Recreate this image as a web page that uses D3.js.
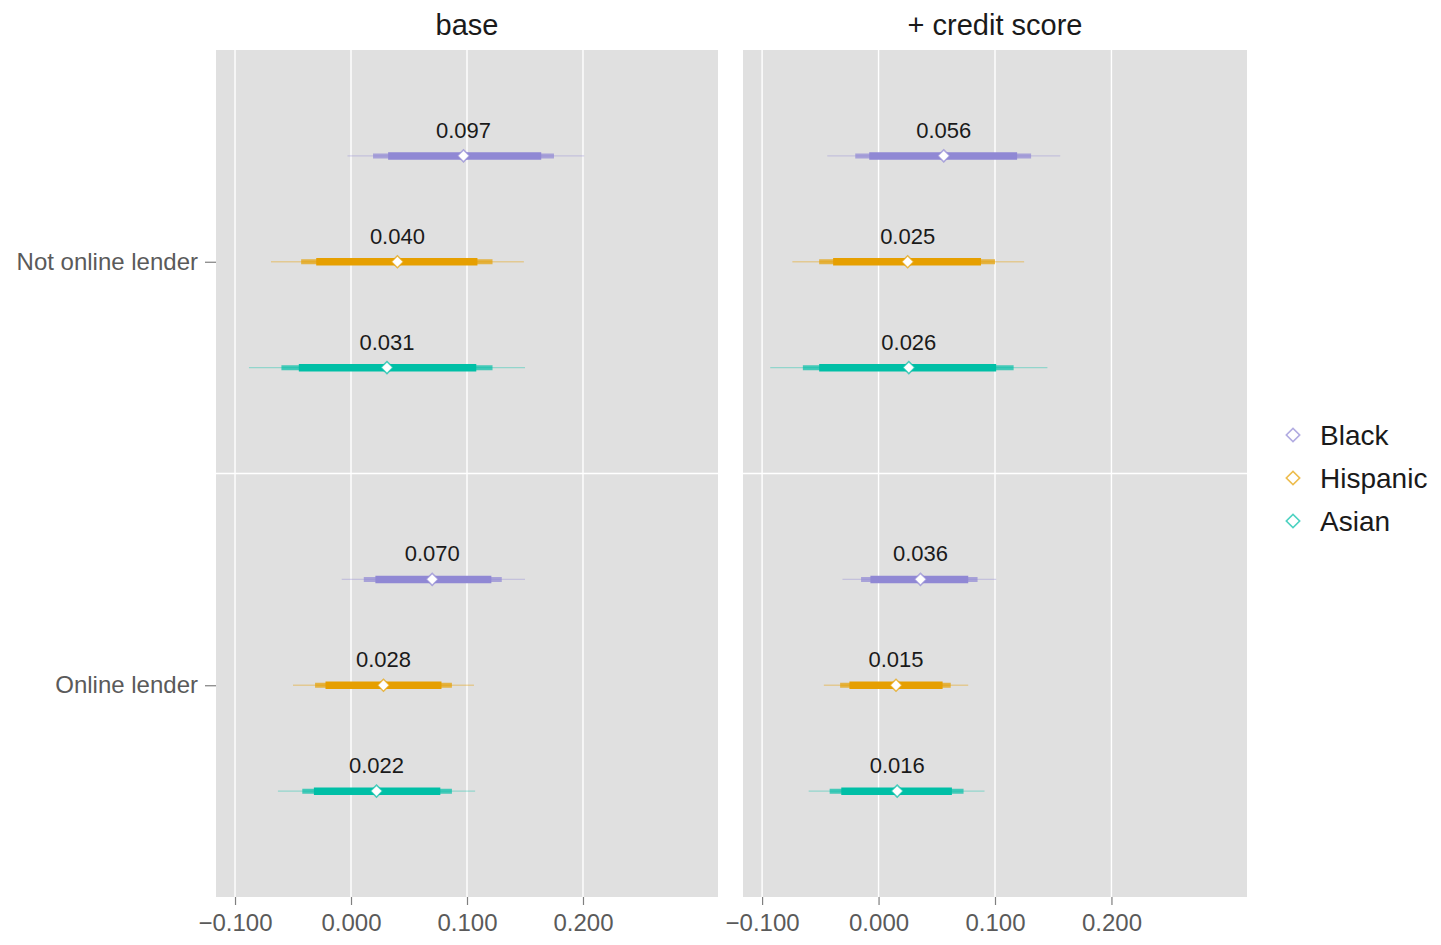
<!DOCTYPE html>
<html>
<head>
<meta charset="utf-8">
<script src="https://cdn.jsdelivr.net/npm/d3@7"></script>
<style>
  body { margin: 0; background: #fff; }
  svg { font-family: "Liberation Sans", Arial, sans-serif; }
</style>
</head>
<body>
<div id="chart"></div>
<script>
// ---- data ----
var panels = ["base", "+ credit score"];
var lenders = ["Not online lender", "Online lender"];
var races = ["Black", "Hispanic", "Asian"];
var xTicks = [-0.1, 0, 0.1, 0.2];

// order: panel -> lender -> race
var est  = [0.097, 0.040, 0.031, 0.070, 0.028, 0.022, 0.056, 0.025, 0.026, 0.036, 0.015, 0.016];
var lo99 = [-0.003, -0.069, -0.088, -0.008, -0.050, -0.063, -0.044, -0.074, -0.093, -0.031, -0.047, -0.060];
var hi99 = [0.201, 0.149, 0.150, 0.150, 0.106, 0.107, 0.156, 0.125, 0.145, 0.101, 0.077, 0.091];
var lo95 = [0.019, -0.043, -0.060, 0.011, -0.031, -0.042, -0.020, -0.051, -0.065, -0.015, -0.033, -0.042];
var hi95 = [0.175, 0.122, 0.122, 0.130, 0.087, 0.087, 0.131, 0.100, 0.116, 0.085, 0.062, 0.073];
var lo90 = [0.032, -0.030, -0.045, 0.021, -0.022, -0.032, -0.008, -0.039, -0.051, -0.007, -0.025, -0.032];
var hi90 = [0.164, 0.109, 0.108, 0.121, 0.078, 0.077, 0.119, 0.088, 0.101, 0.077, 0.055, 0.063];

var colors = ["#9088d4", "#e69f00", "#00bfa6"];

// ---- layout ----
var width = 1441, height = 945;
var panelX = [[216, 718], [743, 1247]];
var plotTop = 50, plotBottom = 897;
var xDomain = [-0.1164, 0.3164];

var rows = [];
est.forEach(function(v, i) {
    rows.push({
        panel: panels[Math.floor(i / 6)],
        lender: lenders[Math.floor(i / 3) % 2],
        race: races[i % 3],
        est: v,
        lo99: lo99[i], hi99: hi99[i],
        lo95: lo95[i], hi95: hi95[i],
        lo90: lo90[i], hi90: hi90[i]
    });
});

var svg = d3.select("#chart").append("svg")
    .attr("width", width)
    .attr("height", height);

var y = d3.scalePoint().domain(lenders).range([plotTop, plotBottom]).padding(0.5);
var dodge = d3.scalePoint().domain(races).range([-y.step() / 4, y.step() / 4]);
var color = d3.scaleOrdinal().domain(races).range(colors);

panels.forEach(function(p, pi) {
    var x = d3.scaleLinear().domain(xDomain).range(panelX[pi]);
    var g = svg.append("g").attr("class", "panel");

    g.append("rect")
        .attr("x", panelX[pi][0])
        .attr("y", plotTop)
        .attr("width", panelX[pi][1] - panelX[pi][0])
        .attr("height", plotBottom - plotTop)
        .attr("fill", "#e0e0e0");

    // vertical grid
    g.selectAll(".vgrid")
        .data(xTicks).enter()
        .append("line")
        .attr("x1", d => x(d)).attr("x2", d => x(d))
        .attr("y1", plotTop).attr("y2", plotBottom)
        .attr("stroke", "#fff")
        .attr("stroke-width", 1.4);

    // horizontal divider between lender groups
    g.append("line")
        .attr("x1", panelX[pi][0]).attr("x2", panelX[pi][1])
        .attr("y1", (plotTop + plotBottom) / 2).attr("y2", (plotTop + plotBottom) / 2)
        .attr("stroke", "#fff")
        .attr("stroke-width", 1.4);

    // strip title
    g.append("text")
        .attr("x", (panelX[pi][0] + panelX[pi][1]) / 2)
        .attr("y", 25)
        .attr("text-anchor", "middle")
        .attr("dominant-baseline", "central")
        .attr("font-size", "29px")
        .attr("fill", "#1a1a1a")
        .text(p);

    // x axis
    var xAxis = d3.axisBottom(x).tickValues(xTicks).tickSize(8).tickPadding(9)
        .tickFormat(d3.format(".3f"));
    var ax = g.append("g")
        .attr("transform", "translate(0," + plotBottom + ")")
        .call(xAxis);
    ax.select(".domain").remove();
    ax.selectAll(".tick line").attr("stroke", "#7f7f7f").attr("stroke-width", 1.2);
    ax.selectAll(".tick text")
        .attr("font-size", "24px")
        .attr("font-family", "Liberation Sans, Arial, sans-serif")
        .attr("fill", "#5a5a5a");

    var data = rows.filter(d => d.panel === p);
    var rg = g.selectAll(".row")
        .data(data).enter()
        .append("g")
        .attr("transform", d => "translate(0," + (y(d.lender) + dodge(d.race)) + ")");

    rg.append("line")
        .attr("x1", d => x(d.lo99)).attr("x2", d => x(d.hi99))
        .attr("stroke", d => color(d.race))
        .attr("stroke-opacity", 0.35)
        .attr("stroke-width", 1.3);
    rg.append("line")
        .attr("x1", d => x(d.lo95)).attr("x2", d => x(d.hi95))
        .attr("stroke", d => color(d.race))
        .attr("stroke-opacity", 0.7)
        .attr("stroke-width", 5);
    rg.append("line")
        .attr("x1", d => x(d.lo90)).attr("x2", d => x(d.hi90))
        .attr("stroke", d => color(d.race))
        .attr("stroke-width", 7.5);

    rg.append("path")
        .attr("d", d3.symbol(d3.symbolSquare).size(72))
        .attr("transform", d => "translate(" + x(d.est) + ",0) rotate(45)")
        .attr("fill", "#fff")
        .attr("stroke", d => color(d.race))
        .attr("stroke-opacity", 0.7)
        .attr("stroke-width", 1.5);

    rg.append("text")
        .attr("x", d => x(d.est))
        .attr("y", -18)
        .attr("text-anchor", "middle")
        .attr("font-size", "22px")
        .attr("fill", "#1a1a1a")
        .text(d => d3.format(".3f")(d.est));
});

// y axis (left of first panel)
var yAxis = d3.axisLeft(y).tickSize(11).tickPadding(7);
var ay = svg.append("g")
    .attr("transform", "translate(" + panelX[0][0] + ",0)")
    .call(yAxis);
ay.select(".domain").remove();
ay.selectAll(".tick line").attr("stroke", "#7f7f7f").attr("stroke-width", 1.2);
ay.selectAll(".tick text")
    .attr("font-size", "24px")
    .attr("font-family", "Liberation Sans, Arial, sans-serif")
    .attr("fill", "#5a5a5a");

// legend
var legend = svg.append("g")
    .selectAll("g")
    .data(races).enter()
    .append("g")
    .attr("transform", (d, i) => "translate(1293," + (435 + i * 43) + ")");
legend.append("path")
    .attr("d", d3.symbol(d3.symbolSquare).size(90))
    .attr("transform", "rotate(45)")
    .attr("fill", "none")
    .attr("stroke", d => color(d))
    .attr("stroke-opacity", 0.7)
    .attr("stroke-width", 1.6);
legend.append("text")
    .attr("x", 27)
    .attr("y", 0)
    .attr("dominant-baseline", "central")
    .attr("font-size", "28px")
    .attr("fill", "#1a1a1a")
    .text(d => d);
</script>
</body>
</html>
